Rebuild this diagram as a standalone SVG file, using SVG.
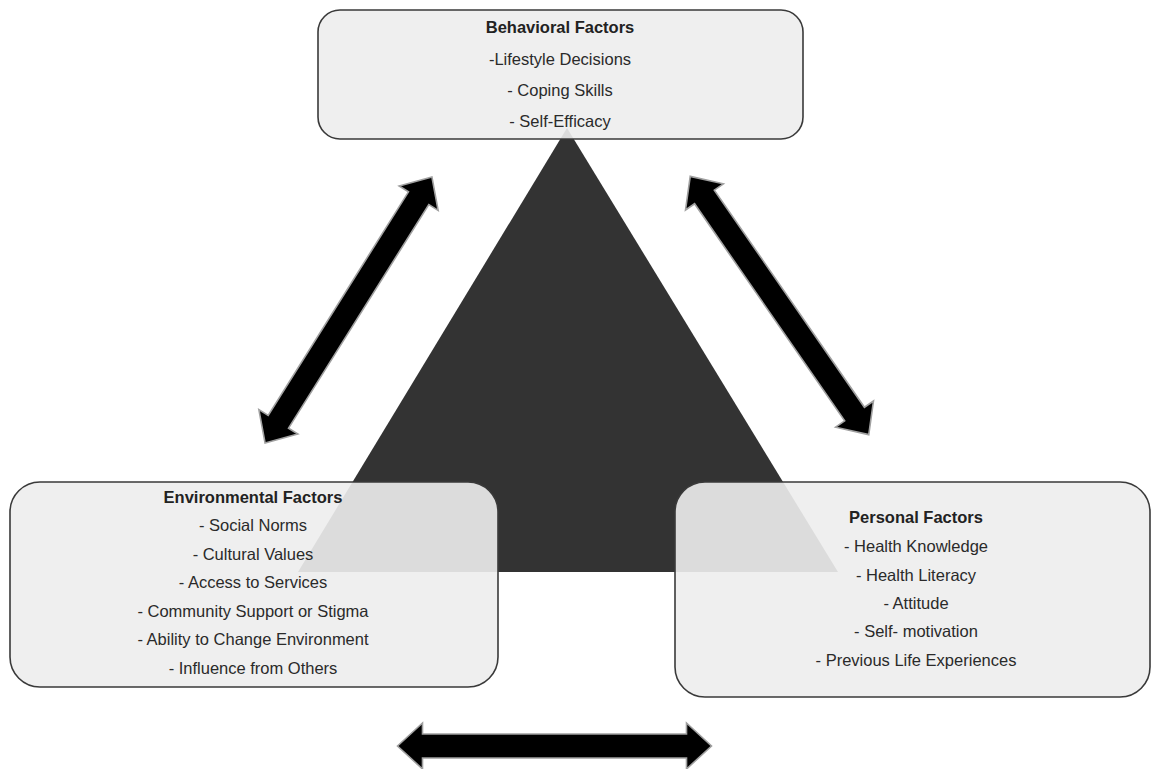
<svg xmlns="http://www.w3.org/2000/svg" width="1151" height="769" viewBox="0 0 1151 769">
  <style>
    .box { fill: #ededed; fill-opacity: 0.91; stroke: #3a3a3a; stroke-width: 1.6; }
    .title { font-family: "Liberation Sans", Arial, sans-serif; font-size: 16.5px; font-weight: bold; fill: #222; text-anchor: middle; }
    .item { font-family: "Liberation Sans", Arial, sans-serif; font-size: 16.5px; fill: #2a2a2a; text-anchor: middle; }
    .arrow { fill: #000; stroke: #a0a0a0; stroke-width: 1.6; stroke-linejoin: miter; }
  </style>
  <defs>
    <!-- double-headed block arrow, centred at the origin, pointing along x -->
    <path id="dblArrow" d="M-157,0 L-132,-23 L-132,-12 L132,-12 L132,-23 L157,0 L132,23 L132,12 L-132,12 L-132,23 Z"/>
  </defs>

  <rect width="1151" height="769" fill="#ffffff"/>

  <!-- central triangle -->
  <g id="triangle">
    <polygon points="567,128 298,572 838,572" fill="#333333"/>
  </g>

  <!-- connectors -->
  <g id="connectors">
    <use href="#dblArrow" class="arrow" transform="translate(348.5,310) rotate(-57.9)"/>
    <use href="#dblArrow" class="arrow" transform="translate(779.5,305.5) rotate(55.35)"/>
    <use href="#dblArrow" class="arrow" transform="translate(554.5,746)"/>
  </g>

  <g id="behavioral">
    <rect class="box" x="318" y="10" width="485" height="129" rx="22"/>
    <text class="title" x="560" y="33">Behavioral Factors</text>
    <text class="item" x="560" y="65">-Lifestyle Decisions</text>
    <text class="item" x="560" y="96">- Coping Skills</text>
    <text class="item" x="560" y="127">- Self-Efficacy</text>
  </g>

  <g id="environmental">
    <rect class="box" x="10" y="482" width="488" height="205" rx="30"/>
    <text class="title" x="253" y="503">Environmental Factors</text>
    <text class="item" x="253" y="531">- Social Norms</text>
    <text class="item" x="253" y="560">- Cultural Values</text>
    <text class="item" x="253" y="588">- Access to Services</text>
    <text class="item" x="253" y="617">- Community Support or Stigma</text>
    <text class="item" x="253" y="645">- Ability to Change Environment</text>
    <text class="item" x="253" y="674">- Influence from Others</text>
  </g>

  <g id="personal">
    <rect class="box" x="675" y="482" width="475" height="215" rx="30"/>
    <text class="title" x="916" y="523">Personal Factors</text>
    <text class="item" x="916" y="552">- Health Knowledge</text>
    <text class="item" x="916" y="581">- Health Literacy</text>
    <text class="item" x="916" y="609">- Attitude</text>
    <text class="item" x="916" y="637">- Self- motivation</text>
    <text class="item" x="916" y="666">- Previous Life Experiences</text>
  </g>
</svg>
